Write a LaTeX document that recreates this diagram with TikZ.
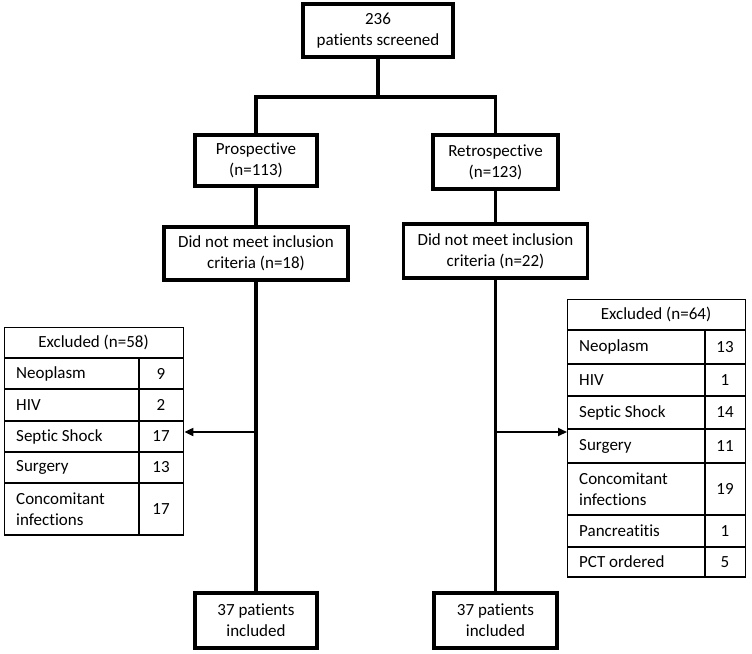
\documentclass[tikz,border=0pt]{standalone}
\usepackage{fontspec}
\setmainfont{Carlito}[Ligatures=NoCommon]
\usetikzlibrary{arrows.meta}
\begin{document}
\begin{tikzpicture}[x=1pt,y=-1pt,
  txt/.style={font=\fontsize{17}{21}\selectfont},
  flow/.style={draw, line width=3.5pt, align=center, inner sep=0pt, fill=white, txt},
  conn/.style={line width=3.2pt},
  arr/.style={line width=2pt, -{Triangle[length=9pt,width=8pt]}},
  tab/.style={draw, line width=1.4pt, inner sep=0pt},
  rule/.style={line width=1.4pt},
  cell/.style={inner sep=0pt, align=left, anchor=west, txt},
  num/.style={inner sep=0pt, txt}]
\useasboundingbox (0,0) rectangle (752,653);
\fill[white] (0,0) rectangle (752,653);

% flow boxes
\node[flow, minimum width=150pt, minimum height=53pt] (top) at (378,30.5) {236\\patients screened};
\node[flow, minimum width=122pt, minimum height=51pt] (pro) at (256,160.5) {Prospective\\(n=113)};
\node[flow, minimum width=125pt, minimum height=54pt] (ret) at (495.5,162) {Retrospective\\(n=123)};
\node[flow, minimum width=184pt, minimum height=53pt] (dnmL) at (256,253.5) {Did not meet inclusion\\criteria (n=18)};
\node[flow, minimum width=184pt, minimum height=54pt] (dnmR) at (495.5,251) {Did not meet inclusion\\criteria (n=22)};
\node[flow, minimum width=122pt, minimum height=55pt] (botL) at (256,620.5) {37 patients\\included};
\node[flow, minimum width=123pt, minimum height=55pt] (botR) at (495.5,620.5) {37 patients\\included};

% connectors
\coordinate (split) at (378,97);
\draw[conn] (top.south) -- (split);
\draw[conn] (pro.north) |- (split) -| (ret.north);
\draw[conn] (pro.south) -- (dnmL.north);
\draw[conn] (ret.south) -- (dnmR.north);
\draw[conn] (dnmL.south) -- (botL.north);
\draw[conn] (dnmR.south) -- (botR.north);

% left table
\node[tab, minimum width=179pt, minimum height=208pt, anchor=north west] (tabL) at (4,327) {};
\node[num] (hL) at (93.5,342.5) {Excluded (n=58)};
\draw[rule] (4,358) -- (183,358);
\draw[rule] (139,358) -- (139,535);
\foreach \a/\b/\t/\n [count=\i] in {358/389/Neoplasm/9, 389/421/HIV/2, 421/452/Septic Shock/17, 452/483/Surgery/13, 483/535/{Concomitant\\infections}/17}{
  \node[cell] (lL\i) at (16,{(\a+\b)/2}) {\t};
  \node[num] (nL\i) at (161,{(\a+\b)/2}) {\n};
  \draw[rule] (4,\b) -- (183,\b);
}

% right table
\node[tab, minimum width=178pt, minimum height=278pt, anchor=north west] (tabR) at (567,299) {};
\node[num] (hR) at (656,314.5) {Excluded (n=64)};
\draw[rule] (567,330) -- (745,330);
\draw[rule] (705,330) -- (705,577);
\foreach \a/\b/\t/\n [count=\i] in {330/364/Neoplasm/13, 364/396/HIV/1, 396/429/Septic Shock/14, 429/463/Surgery/11, 463/515/{Concomitant\\infections}/19, 515/547/Pancreatitis/1, 547/577/PCT ordered/5}{
  \node[cell] (lR\i) at (579,{(\a+\b)/2}) {\t};
  \node[num] (nR\i) at (725,{(\a+\b)/2}) {\n};
  \draw[rule] (567,\b) -- (745,\b);
}

% arrows to tables
\coordinate (aL) at (256,432);
\coordinate (aR) at (495.5,432);
\draw[arr] (aL) -- (aL -| tabL.east);
\draw[arr] (aR) -- (aR -| tabR.west);
\end{tikzpicture}
\end{document}
